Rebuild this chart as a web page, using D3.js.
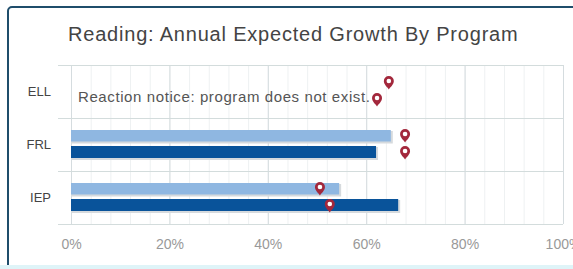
<!DOCTYPE html>
<html>
<head>
<meta charset="utf-8">
<script src="https://cdnjs.cloudflare.com/ajax/libs/d3/7.8.5/d3.min.js"></script>
<style>
  body { margin: 0; background: #fff; }
  svg { font-family: Arial, "Liberation Sans", sans-serif; }
</style>
</head>
<body>
<div id="chart"></div>
<script>
// data
var programs = ["ELL", "FRL", "IEP"];
var expected = [null, 65, 54.5];      // light bars
var actual = [null, 62, 66.5];        // dark bars
var pinExpected = [64.6, 67.9, 50.6]; // upper markers
var pinActual = [62.2, 67.9, 52.6];   // lower markers
var tickValues = [0, 20, 40, 60, 80, 100];
var notice = "Reaction notice: program does not exist.";

var svg = d3.select("#chart")
	.append("svg")
	.attr("width", 573)
	.attr("height", 269);

// panel frame
svg.append("rect")
	.attr("x", 8)
	.attr("y", 7)
	.attr("width", 600)
	.attr("height", 280)
	.attr("rx", 4)
	.attr("fill", "#fff")
	.attr("stroke", "#1f4d6b")
	.attr("stroke-width", 2);
svg.append("rect")
	.attr("x", 0).attr("width", 573)
	.attr("y", 265).attr("height", 4)
	.attr("fill", "#dff4f8");

svg.append("text")
	.attr("x", 68)
	.attr("y", 41)
	.style("font-size", "20px")
	.style("letter-spacing", "0.8px")
	.style("fill", "#444")
	.text("Reading: Annual Expected Growth By Program");

var x = d3.scaleLinear().domain([0, 100]).range([71, 563]);
var y = d3.scaleBand().domain(programs).range([65, 224]);

// minor grid
svg.append("g")
	.selectAll("line")
	.data(d3.range(0, 101, 4))
	.enter()
	.append("line")
	.attr("x1", function (d) { return x(d) + 0.5; })
	.attr("x2", function (d) { return x(d) + 0.5; })
	.attr("y1", 65)
	.attr("y2", 224)
	.attr("stroke", "#eef1f2");

// major grid
svg.append("g")
	.selectAll("line")
	.data(tickValues)
	.enter()
	.append("line")
	.attr("x1", function (d) { return x(d) + 0.5; })
	.attr("x2", function (d) { return x(d) + 0.5; })
	.attr("y1", 65)
	.attr("y2", 224)
	.attr("stroke", "#d5dcdf");

// row lines
svg.append("g")
	.selectAll("line")
	.data([65, 224].concat(programs.slice(1).map(function (d) { return y(d); })))
	.enter()
	.append("line")
	.attr("x1", 58)
	.attr("x2", 563)
	.attr("y1", function (d) { return Math.round(d) + 0.5; })
	.attr("y2", function (d) { return Math.round(d) + 0.5; })
	.attr("stroke", "#d3dcdc");

// x axis labels
var xAxis = d3.axisBottom(x)
	.tickValues(tickValues)
	.tickSize(0)
	.tickPadding(0)
	.tickFormat(function (d) { return d + "%"; });
var gx = svg.append("g")
	.attr("transform", "translate(0,239)")
	.call(xAxis);
gx.select(".domain").remove();
gx.selectAll("text")
	.style("font-size", "14px")
	.style("fill", "#999")
	.style("font-family", "Arial, 'Liberation Sans', sans-serif");

// y axis labels
var yAxis = d3.axisLeft(y).tickSize(0).tickPadding(0);
var gy = svg.append("g")
	.attr("transform", "translate(51,0)")
	.call(yAxis);
gy.select(".domain").remove();
gy.selectAll("text")
	.style("font-size", "13px")
	.style("fill", "#444")
	.style("font-family", "Arial, 'Liberation Sans', sans-serif");

function center(i) {
	return y(programs[i]) + y.bandwidth() / 2;
}

var rows = programs.map(function (p, i) {
	return { p: p, i: i, e: expected[i], a: actual[i] };
});

function drawBars(key, color, off, h) {
	var data = rows.filter(function (d) { return d[key] != null; });
	// soft shadow
	svg.append("g")
		.selectAll("rect")
		.data(data)
		.enter()
		.append("rect")
		.attr("x", x(0) + 1)
		.attr("y", function (d) { return center(d.i) + off + 1; })
		.attr("width", function (d) { return x(d[key]) - x(0) + 1; })
		.attr("height", h + 1)
		.attr("fill", "#d6dadd");
	svg.append("g")
		.selectAll("rect")
		.data(data)
		.enter()
		.append("rect")
		.attr("x", x(0))
		.attr("y", function (d) { return center(d.i) + off; })
		.attr("width", function (d) { return x(d[key]) - x(0); })
		.attr("height", h)
		.attr("fill", color);
}
drawBars("e", "#8fb7e1", -14.5, 11.5);
drawBars("a", "#09539a", 1.5, 12);

svg.append("text")
	.attr("x", 78)
	.attr("y", center(0) + 10)
	.style("font-size", "15px")
	.style("letter-spacing", "0.6px")
	.style("fill", "#555")
	.text(notice);

// map pin markers
var pinPath = "M0,0 C-1.5,-2.5 -5,-5 -5,-8.5 A5,5 0 1,1 5,-8.5 C5,-5 1.5,-2.5 0,0Z";
function drawPins(values, off) {
	var g = svg.append("g")
		.selectAll("g")
		.data(values)
		.enter()
		.append("g")
		.attr("transform", function (d, i) {
			return "translate(" + x(d) + "," + (center(i) + off) + ")";
		});
	g.append("path")
		.attr("d", pinPath)
		.attr("fill", "#a3283c");
	g.append("circle")
		.attr("cx", 0)
		.attr("cy", -8.5)
		.attr("r", 2.3)
		.attr("fill", "#fff");
}
drawPins(pinExpected, -2);
drawPins(pinActual, 15);
</script>
</body>
</html>
